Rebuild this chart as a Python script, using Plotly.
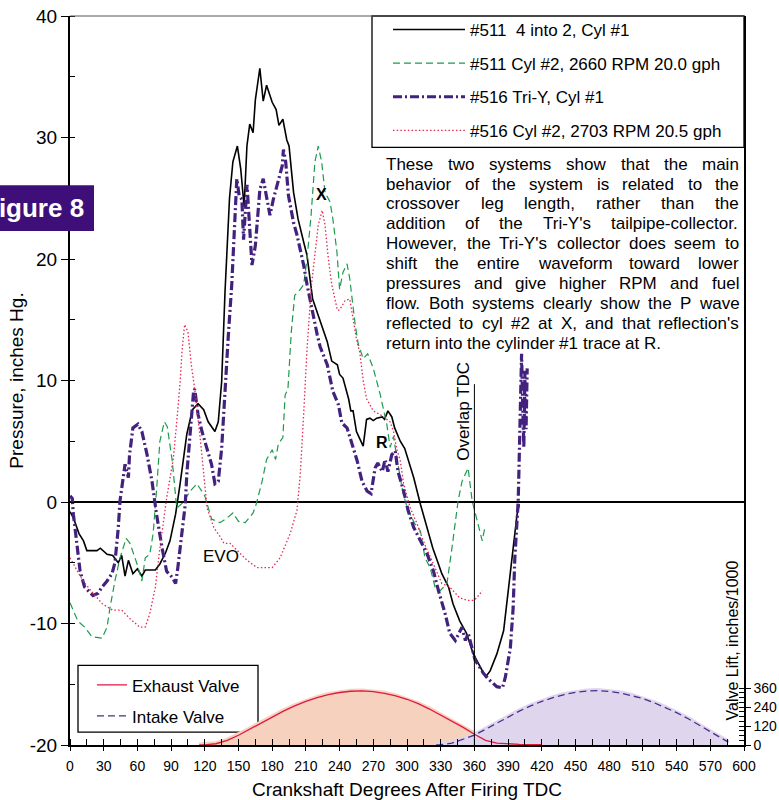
import plotly.graph_objects as go

# ---------------- pressure traces: (crank degrees, pressure in. Hg) ----------------
cyl1_511 = [
    (0, -0.8), (3, -1.3), (8, -2.6), (12, -3.2), (15, -4.0), (24, -4.0), (27, -3.8), (33, -4.3),
    (38, -4.4), (43, -5.0), (46, -4.4), (49, -6.1), (52, -4.8), (56, -5.9), (60, -5.5), (64, -6.1),
    (67, -5.6), (76, -5.6), (80, -5.1), (85, -4.2), (89, -3.2), (94, -1.0), (98, 1.5), (104, 5.6),
    (109, 7.6), (114, 8.1), (119, 7.6), (123, 6.6), (129, 5.8), (132, 6.6), (135, 9.9), (138, 17.3),
    (142, 25.0), (145, 28.0), (149, 29.3), (152, 27.4), (155, 24.3), (157.5, 29.3), (160, 31.1),
    (163, 30.4), (165, 33.1), (169, 35.7), (172, 33.0), (175, 34.3), (180, 32.9), (183.5, 32.3),
    (186, 31.0), (189.5, 31.5), (193, 29.8), (195, 29.3), (199, 25.5), (203, 23.3), (208, 21.4),
    (211, 20.3), (216, 16.7), (221, 15.4), (225, 14.3), (229, 13.2), (233, 11.6), (238, 11.3),
    (240, 10.5), (243, 10.2), (248, 8.5), (250, 7.5), (252, 7.5), (255, 5.8), (258, 5.2), (261, 4.6),
    (264, 6.8), (267, 6.9), (270, 6.7), (273, 6.9), (278, 7.0), (280, 6.8), (283, 7.5), (286.5, 7.0),
    (289, 6.1), (294, 5.0), (298, 4.4), (306, 2.0), (312, -0.2), (318, -2.1), (323, -3.8),
    (328, -5.1), (331, -5.9), (337, -7.0), (341, -8.4), (347, -9.8), (353, -10.8), (359, -12.5),
    (365, -13.6), (370, -14.4), (374, -13.9), (380, -12.5), (386, -10.6), (389, -8.1), (392, -5.4),
    (394.5, -3.8), (398, -1.0), (400, -0.2),
]

cyl2_511 = [
    (0, -8.3), (2, -8.7), (7, -9.8), (13, -10.3), (19.6, -11.1), (28.5, -11.2), (33, -10.3),
    (35.6, -8.7), (40, -6.5), (44.5, -4.6), (50, -3.0), (53.4, -3.4), (59.7, -5.1), (64, -6.5),
    (67, -4.6), (71, -4.3), (74, -2.6), (77, 0.9), (80, 5.0), (84, 6.6), (86.6, 6.2), (91, 3.4),
    (95, -0.5), (100, -0.1), (107, 0.9), (113, 1.5), (120, 0.5), (126, -1.4), (133.6, -1.7),
    (140, -1.3), (145, -0.9), (150, -1.6), (156, -1.7), (163, -0.9), (166, -0.1), (171, 1.7),
    (175, 3.5), (180, 4.3), (183, 3.5), (185.5, 4.8), (189.5, 5.3), (191.5, 8.8), (194, 9.3),
    (197, 14.0), (200, 17.0), (205, 17.5), (208, 17.9), (211, 20.0), (214.6, 23.6), (218, 28.0),
    (221, 29.3), (224, 28.0), (227, 25.5), (231.5, 24.7), (234, 23.3), (237.6, 20.6), (240, 17.5),
    (243, 18.9), (246.6, 19.6), (249, 18.4), (254, 14.5), (256.6, 13.0), (261, 11.8), (265, 12.2),
    (270, 11.0), (276, 8.9), (282, 6.4), (285, 4.5), (288, 5.4), (291, 3.6), (294, 1.8),
    (296.5, 0.7), (301, -0.7), (307, -1.8), (312, -2.4), (316, -4.6), (320.6, -5.4), (325, -7.0),
    (329.5, -7.3), (335.6, -6.7), (340, -3.8), (345.5, 0.1), (349, 1.7), (354.4, 2.8), (358, 0.1),
    (362, -1.3), (367, -3.2), (369.5, -2.0),
]

cyl1_516 = [
    (0, 0.5), (2, 0.3), (3, -1.0), (6, -3.2), (9, -5.7), (13, -7.0), (18, -7.5), (20.5, -7.7),
    (25, -7.5), (28.5, -7.0), (33, -6.5), (37.4, -5.9), (40, -5.0), (43, -2.1), (44.5, 0.1),
    (47, 1.7), (49, 3.1), (52, 2.0), (53, 3.9), (56, 6.1), (60.5, 6.4), (64, 5.8), (68.6, 3.9),
    (73, 1.7), (77, -1.0), (82, -3.8), (86, -5.7), (91, -6.2), (94, -6.7), (96, -5.4), (100, -2.4),
    (102.6, -0.2), (104, 2.3), (107, 5.8), (110, 9.1), (111, 9.3), (114, 7.2), (117.5, 5.8),
    (122, 4.4), (126, 3.1), (129, 1.5), (132, 1.7), (135, 4.4), (138, 9.5), (141, 13.8),
    (144, 17.9), (147, 23.3), (148.5, 26.6), (150.6, 25.2), (153, 24.9), (154.5, 21.6),
    (157.6, 26.1), (160, 22.5), (162, 19.5), (165, 21.1), (169, 25.7), (172, 26.6), (175, 25.2),
    (178, 23.6), (181, 24.9), (185, 26.3), (189, 27.7), (190, 29.0), (192, 28.0), (194.5, 25.2),
    (199, 23.0), (202, 22.0), (205, 20.8), (208, 19.5), (211, 17.9), (215.5, 15.7), (220, 13.8),
    (222.6, 12.8), (229, 11.3), (234, 9.1), (239, 8.0), (242, 6.5), (246.6, 6.1), (251, 4.8),
    (255.6, 3.4), (260, 1.7), (264.5, 0.9), (268, 0.7), (270, 1.7), (271.6, 2.8), (274, 3.2),
    (278, 2.5), (280.5, 3.5), (283, 2.5), (286.5, 3.9), (289.5, 4.2), (292, 2.5), (297, 0.9),
    (301, -0.7), (306, -2.1), (312, -3.2), (318, -4.3), (323.6, -5.7), (328, -7.3), (334, -9.2),
    (338, -10.8), (343, -11.4), (349, -10.3), (352, -11.4), (354.5, -10.8), (360.6, -13.0),
    (368, -14.1), (374, -14.7), (380, -15.2), (385, -15.3), (387.6, -14.4), (392, -12.0),
    (394.5, -8.7), (396, -4.6), (398, -0.5), (399, 0.1), (400, 4.0), (401, 9.0), (402, 12.2),
    (403, 8.0), (404, 4.5), (405, 10.8), (406, 6.0), (407, 11.0),
]

cyl2_516 = [
    (0, -4.6), (3, -5.1), (11.6, -6.5), (20.5, -7.5), (29, -8.4), (38, -8.9), (46, -8.9),
    (53.4, -9.6), (62, -10.3), (67, -10.3), (71, -9.2), (76, -7.0), (80, -3.8), (86, 0.3),
    (92, 3.6), (95, 6.6), (98, 9.8), (99.7, 12.4), (102, 14.6), (105, 14.0), (108, 11.3),
    (111, 9.3), (116, 5.2), (122, -0.5), (128, -2.1), (134, -2.9), (137, -3.4), (142.5, -3.4),
    (149, -4.0), (157.6, -4.8), (166.5, -5.4), (180, -5.4), (187, -4.6), (196, -2.6), (202, -0.7),
    (205, 2.3), (208, 7.2), (211, 12.6), (215, 17.9), (218, 20.6), (221, 22.8), (224.5, 24.0),
    (227, 22.8), (230, 20.0), (233, 17.9), (238, 15.8), (240, 15.8), (245, 16.6), (249, 16.7),
    (252, 15.1), (255, 13.4), (258, 12.3), (261, 10.0), (264, 8.5), (270, 7.5), (276, 7.2),
    (280, 6.9), (285, 6.6), (288, 5.8), (291, 4.3), (294, 3.4), (297, 1.5), (303, -0.5),
    (309, -1.8), (314.5, -3.2), (321, -4.6), (327, -5.9), (331, -6.7), (338, -7.0), (347, -7.9),
    (354.5, -8.1), (359, -8.1), (362, -7.9), (367, -7.3),
]

# ---------------- valve lift: (crank degrees, lift in/1000) ----------------
exhaust_lift = [
    (115, 0), (120, 1), (130, 8), (140, 30), (150, 62), (160, 100), (170, 140), (180, 180),
    (190, 215), (200, 248), (210, 277), (220, 300), (230, 320), (240, 333), (250, 341), (260, 343),
    (270, 338), (280, 328), (290, 312), (300, 290), (310, 262), (320, 228), (330, 190), (340, 150),
    (350, 112), (360, 68), (370, 30), (380, 12), (390, 6), (400, 4), (410, 3), (420, 2),
]
intake_lift = [
    (326, 0), (330, 2), (340, 12), (350, 35), (360, 62), (370, 100), (380, 140), (390, 180),
    (400, 215), (410, 248), (420, 277), (430, 300), (440, 320), (450, 334), (460, 342), (470, 345),
    (480, 340), (490, 330), (500, 314), (510, 295), (520, 268), (530, 238), (540, 205), (550, 168),
    (560, 125), (570, 82), (580, 40), (586, 18),
]

series_names = [
    "#511  4 into 2, Cyl #1",
    "#511 Cyl #2, 2660 RPM 20.0 gph",
    "#516 Tri-Y, Cyl #1",
    "#516 Cyl #2, 2703 RPM 20.5 gph",
]
valve_names = ["Exhaust Valve", "Intake Valve"]

x_ticks = list(range(0, 601, 30))
y_ticks = [-20, -10, 0, 10, 20, 30, 40]
y_tick_text = ["-20", "-10", "0", "10", "20", "30", "40"]
lift_ticks = [0, 120, 240, 360]
overlap_tdc = 360

note_lines = [
    "These two systems show that the main",
    "behavior of the system is related to the",
    "crossover leg length, rather than the",
    "addition of the Tri-Y's tailpipe-collector.",
    "However, the Tri-Y's collector does seem to",
    "shift the entire waveform toward lower",
    "pressures and give higher RPM and fuel",
    "flow. Both systems clearly show the P wave",
    "reflected to cyl #2 at X, and that reflection's",
    "return into the cylinder #1 trace at R.",
]


def xs(pairs):
    return [a for a, _ in pairs]


def ys(pairs):
    return [b for _, b in pairs]


FONT = "Liberation Sans, Arial, sans-serif"
W, H = 779, 800
ML, MR, MT, MB = 70, 35, 13, 55
PW, PH = W - ML - MR, H - MT - MB


def px(x):
    return (x - ML) / PW


def py(y):
    return (H - MB - y) / PH


# Arial / Liberation Sans advance widths (1/1000 em), used to justify the note
GLYPH_W = {" ": 278, "'": 191, "#": 556, ",": 278, "-": 333, ".": 278, "1": 556, "2": 556,
           "B": 667, "H": 722, "M": 833, "P": 667, "R": 722, "T": 611, "X": 667, "Y": 667}
GLYPH_W.update({c: w for c, w in zip(
    "abcdefghijklmnopqrstuvwxyz",
    [556, 556, 500, 556, 556, 278, 556, 556, 222, 222, 500, 222, 833, 556, 556, 556, 556, 333,
     500, 278, 556, 500, 722, 500, 500, 500])})


def text_w(s, size):
    return sum(GLYPH_W.get(c, 556) for c in s) * size / 1000.0


fig = go.Figure()

# valve lift shading (secondary axis)
for pairs, fc in [(exhaust_lift, "rgba(245,209,190,1)"), (intake_lift, "rgba(223,214,238,1)")]:
    fig.add_trace(go.Scatter(
        x=xs(pairs), y=ys(pairs), yaxis="y2", mode="lines", fill="tozeroy",
        fillcolor=fc, line=dict(color=fc, width=5), showlegend=False, hoverinfo="skip",
    ))

fig.add_trace(go.Scatter(
    x=xs(exhaust_lift), y=ys(exhaust_lift), yaxis="y2", mode="lines", name=valve_names[0],
    line=dict(color="#e0173f", width=1.3), legend="legend2", legendgroup="ev",
))
fig.add_trace(go.Scatter(
    x=xs(intake_lift), y=ys(intake_lift), yaxis="y2", mode="lines", name=valve_names[1],
    line=dict(color="#4b2d8c", width=1.3, dash="7px,4px"), legend="legend2", legendgroup="iv",
))

styles = [
    dict(color="#000000", width=1.6),
    dict(color="#1f9a4c", width=1.2, dash="7px,4px"),
    dict(color="#43217e", width=3.2, dash="9px,3px,2px,3px"),
    dict(color="#e4284f", width=1.3, dash="1.5px,2.2px"),
]
for i, pairs in enumerate([cyl1_511, cyl2_511, cyl1_516, cyl2_516]):
    fig.add_trace(go.Scatter(
        x=xs(pairs), y=ys(pairs), mode="lines", name=series_names[i],
        line=styles[i], legend="legend", legendgroup=f"s{i}",
    ))

shapes = [
    # overlap TDC marker
    dict(type="line", xref="x", yref="y", x0=overlap_tdc, x1=overlap_tdc, y0=9.7, y1=-20,
         line=dict(color="black", width=1)),
    # frame top
    dict(type="line", xref="paper", yref="paper", x0=0, x1=1, y0=1, y1=1,
         line=dict(color="#555555", width=1)),
    # main legend box
    dict(type="rect", xref="paper", yref="paper", x0=px(372), x1=1, y0=py(145), y1=1,
         line=dict(color="black", width=1.3), fillcolor="white", layer="below"),
    # valve legend box
    dict(type="rect", xref="paper", yref="paper", x0=px(78), x1=px(258), y0=py(732), y1=py(665),
         line=dict(color="black", width=1.3), fillcolor="white", layer="below"),
    # figure tag
    dict(type="rect", xref="paper", yref="paper", x0=px(-5), x1=px(94), y0=py(229), y1=py(183),
         line=dict(width=0), fillcolor="#3e0f79", layer="above"),
]

annotations = [
    dict(text="<b>Figure 8</b>", xref="paper", yref="paper", x=px(86), y=py(206),
         xanchor="right", yanchor="middle", showarrow=False,
         font=dict(family=FONT, size=26, color="white")),
    dict(text="<b>X</b>", x=224, y=25.3, showarrow=False, font=dict(family=FONT, size=16, color="black")),
    dict(text="<b>R</b>", x=277.5, y=4.9, showarrow=False, font=dict(family=FONT, size=16, color="black")),
    dict(text="EVO", x=134.5, y=-4.5, showarrow=False, font=dict(family=FONT, size=17, color="black")),
    dict(text="Overlap TDC", x=350.7, y=7.5, textangle=-90, showarrow=False,
         xanchor="center", yanchor="middle", font=dict(family=FONT, size=17, color="black")),
    dict(text="Valve Lift, inches/1000", xref="paper", yref="paper", x=px(732), y=py(640),
         textangle=-90, showarrow=False, xanchor="center", yanchor="middle",
         font=dict(family=FONT, size=16, color="black")),
]

# justified note: every word placed on its own, last line left ragged
NOTE_SIZE = 17
NOTE_LEFT, NOTE_SPAN = 385, 353
for k, line in enumerate(note_lines):
    words = line.split(" ")
    widths = [text_w(w, NOTE_SIZE) for w in words]
    if k == len(note_lines) - 1:
        gap = text_w(" ", NOTE_SIZE)
    else:
        gap = (NOTE_SPAN - sum(widths)) / (len(words) - 1)
    xpos = NOTE_LEFT
    for w, wd in zip(words, widths):
        annotations.append(dict(
            text=w, xref="paper", yref="paper", x=px(xpos), y=py(161.7 + 20.0 * k),
            xanchor="left", yanchor="middle", showarrow=False, borderpad=0,
            font=dict(family=FONT, size=NOTE_SIZE, color="black"),
        ))
        xpos += wd + gap

fig.update_layout(
    width=W, height=H,
    margin=dict(l=ML, r=MR, t=MT, b=MB, pad=0),
    paper_bgcolor="white", plot_bgcolor="white",
    font=dict(family=FONT, color="black"),
    xaxis=dict(
        range=[0, 600], tickvals=x_ticks, ticks="outside", ticklen=4, tickwidth=1,
        tickcolor="black", showline=True, linecolor="black", linewidth=2, showgrid=False,
        zeroline=False, tickfont=dict(size=14), automargin=False, ticklabelstandoff=3,
        minor=dict(tickvals=list(range(0, 601, 15)), ticks="inside", ticklen=6, tickcolor="black"),
        title=dict(text="Crankshaft Degrees After Firing TDC", font=dict(size=19), standoff=10),
    ),
    yaxis=dict(
        range=[-20, 40], tickvals=y_ticks, ticktext=y_tick_text, ticks="outside", ticklen=7,
        tickwidth=1, tickcolor="black", showline=True, linecolor="black", linewidth=2,
        showgrid=False, zeroline=True, zerolinecolor="black", zerolinewidth=1.5,
        tickfont=dict(size=19), automargin=False,
        minor=dict(tickvals=list(range(-20, 41, 5)), ticks="inside", ticklen=5, tickcolor="black"),
        title=dict(text="Pressure, inches Hg.", font=dict(size=19), standoff=1),
    ),
    yaxis2=dict(
        overlaying="y", side="right", range=[0, 4623], tickvals=lift_ticks, ticks="outside",
        ticklen=5, tickcolor="black", showline=True, linecolor="black", linewidth=1.5,
        showgrid=False, zeroline=False, tickfont=dict(size=14), automargin=False,
        minor=dict(tickvals=list(range(0, 361, 30)), ticks="inside", ticklen=5, tickcolor="black"),
    ),
    legend=dict(
        x=px(388), y=py(9), xanchor="left", yanchor="top", bgcolor="rgba(0,0,0,0)",
        borderwidth=0, font=dict(size=17, family=FONT), itemwidth=72, tracegroupgap=8.5,
        traceorder="grouped",
    ),
    legend2=dict(
        x=px(92), y=py(667), xanchor="left", yanchor="top", bgcolor="rgba(0,0,0,0)",
        borderwidth=0, font=dict(size=17, family=FONT), itemwidth=30, tracegroupgap=6,
        traceorder="grouped",
    ),
    shapes=shapes,
    annotations=annotations,
    showlegend=True,
)

fig.write_html("out.html")
